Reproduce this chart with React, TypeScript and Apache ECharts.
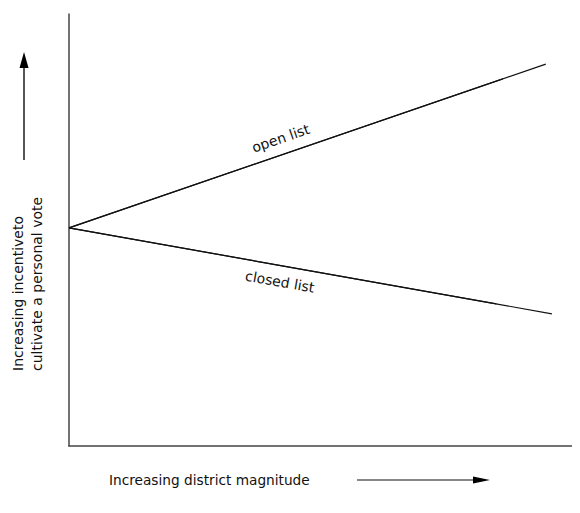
import React, { useEffect, useRef } from "react";
import * as echarts from "echarts";

const seriesNames = ["open list", "closed list"];
const openList: [number, number][] = [
  [0, 50.5],
  [93.3, 88.4],
];
const closedList: [number, number][] = [
  [0, 50.5],
  [94.5, 30.6],
];
// fraction of each line where its label sits (label centred at half this)
const labelSpan = [0.91, 0.885];
const xTitle = "Increasing district magnitude";
const yTitle = "Increasing incentiveto\ncultivate a personal vote";

const FONT = "DejaVu Sans";

export default function App() {
  const ref = useRef<HTMLDivElement>(null);
  useEffect(() => {
    if (!ref.current) return;
    const chart = echarts.init(ref.current, undefined, { renderer: "svg" });
    const mkSeries = (name: string, data: [number, number][], pos: string, frac: number) => {
      const end = [
        data[0][0] + (data[1][0] - data[0][0]) * frac,
        data[0][1] + (data[1][1] - data[0][1]) * frac,
      ];
      return {
        type: "line",
        name,
        data,
        symbol: "none",
        lineStyle: { color: "#111", width: 1.2 },
        markLine: {
          silent: true,
          symbol: "none",
          lineStyle: { color: "#111", width: 1.2, type: "solid" },
          label: {
            show: true,
            position: pos,
            formatter: name,
            color: "#111",
            fontFamily: FONT,
            fontSize: 14,
            distance: 9,
          },
          data: [[{ coord: data[0] }, { coord: end }]],
        },
      };
    };
    chart.setOption({
      animation: false,
      grid: { left: 69, right: 0, top: 14, bottom: 67 },
      xAxis: {
        type: "value",
        min: 0,
        max: 100,
        axisLine: { show: true, lineStyle: { color: "#444", width: 1.5 } },
        axisTick: { show: false },
        axisLabel: { show: false },
        splitLine: { show: false },
      },
      yAxis: {
        type: "value",
        min: 0,
        max: 100,
        axisLine: { show: true, lineStyle: { color: "#444", width: 1.5 } },
        axisTick: { show: false },
        axisLabel: { show: false },
        splitLine: { show: false },
      },
      series: [
        mkSeries(seriesNames[0], openList, "insideMiddleTop", labelSpan[0]),
        mkSeries(seriesNames[1], closedList, "insideMiddleBottom", labelSpan[1]),
      ],
      graphic: [
        {
          type: "text",
          x: 109,
          y: 480,
          style: {
            text: xTitle,
            fontFamily: FONT,
            fontSize: 13.7,
            fill: "#111",
            textAlign: "left",
            textVerticalAlign: "middle",
          },
        },
        {
          type: "line",
          shape: { x1: 357, y1: 480, x2: 476, y2: 480 },
          style: { stroke: "#111", lineWidth: 1.2 },
        },
        {
          type: "polygon",
          shape: { points: [[473, 476.5], [473, 483.5], [490, 480]] },
          style: { fill: "#000" },
        },
        {
          type: "text",
          x: 27.5,
          y: 371,
          rotation: Math.PI / 2,
          style: {
            text: yTitle,
            fontFamily: FONT,
            fontSize: 14,
            lineHeight: 19,
            fill: "#111",
            textAlign: "left",
            textVerticalAlign: "middle",
          },
        },
        {
          type: "line",
          shape: { x1: 24, y1: 160, x2: 24, y2: 66 },
          style: { stroke: "#555", lineWidth: 2 },
        },
        {
          type: "polygon",
          shape: { points: [[19.5, 68], [28.5, 68], [24, 52]] },
          style: { fill: "#000" },
        },
      ],
    });
    return () => chart.dispose();
  }, []);
  return <div ref={ref} style={{ width: 580, height: 513, margin: -8 }} />;
}
